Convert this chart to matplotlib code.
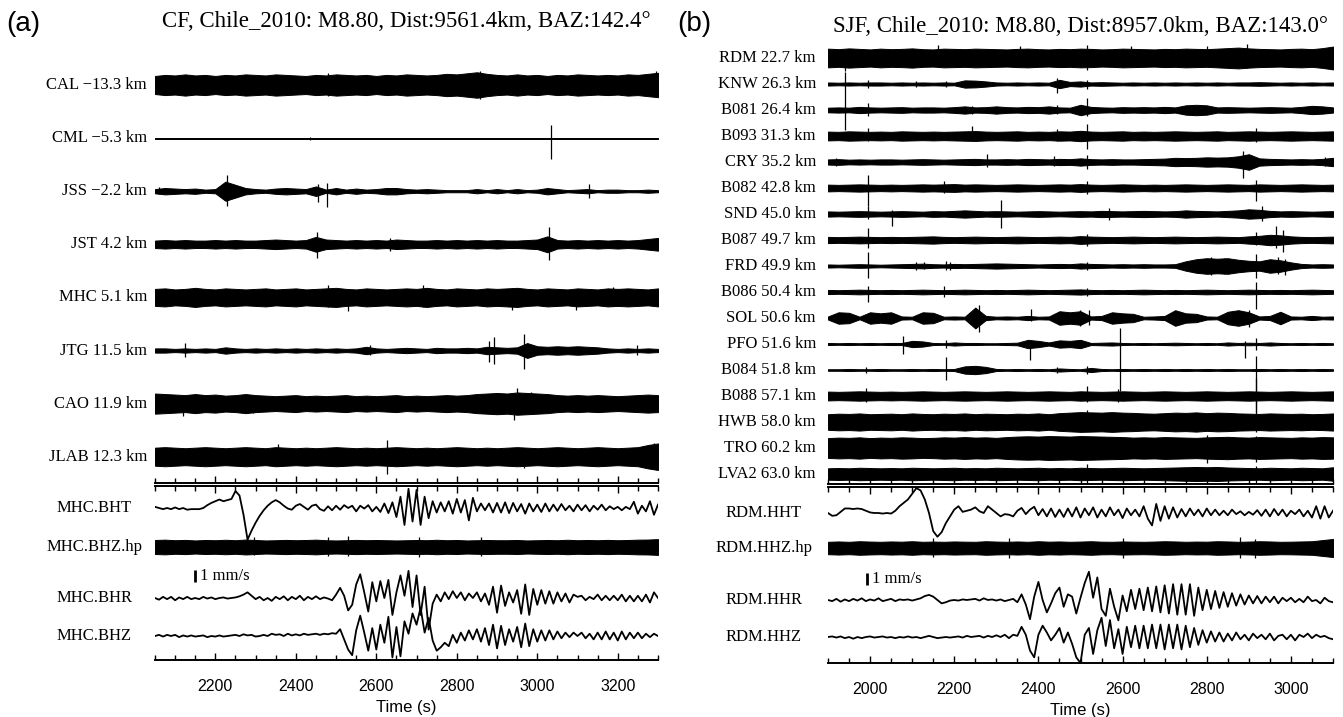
import numpy as np
import matplotlib
matplotlib.use('Agg')
import matplotlib.pyplot as plt
from matplotlib.ticker import MultipleLocator

# ---------------------------------------------------------------------------
# Panel (a): CF array, 2050-3300 s
# noisy traces: half-amplitude envelope, % of trace spacing, every 25 s
# ---------------------------------------------------------------------------
A_XLIM = (2050, 3300)
A_TITLE = 'CF, Chile_2010: M8.80, Dist:9561.4km, BAZ:142.4°'
A_LABELS = ['CAL −13.3 km', 'CML −5.3 km', 'JSS −2.2 km', 'JST 4.2 km',
            'MHC 5.1 km', 'JTG 11.5 km', 'CAO 11.9 km', 'JLAB 12.3 km']

CAL_ENV = [17, 19, 18, 20, 18, 19, 17, 19, 18, 20, 19, 18, 20, 19, 18, 17, 19, 18, 20, 19,
           18, 19, 17, 19, 18, 20, 19, 18, 19, 21, 20, 22, 24, 21, 19, 18, 20, 18, 19, 17,
           19, 18, 20, 19, 18, 19, 18, 20, 19, 21, 23]
CML_ENV = [1, 1, 1, 1, 1, 1, 1, 1, 1, 1, 1, 1, 1, 1, 1, 1, 1, 1, 1, 1,
           1, 1, 1, 1, 1, 1, 1, 1, 1, 1, 1, 1, 1, 1, 1, 1, 1, 1, 1, 1,
           1, 1, 1, 1, 1, 1, 1, 1, 1, 1, 1]
JSS_ENV = [4, 6, 5, 4, 5, 3, 4, 18, 12, 6, 4, 3, 5, 6, 5, 4, 9, 3, 6, 3,
           5, 3, 4, 6, 6, 4, 3, 4, 3, 2, 2, 2, 4, 2, 4, 2, 4, 2, 3, 6,
           4, 2, 3, 4, 2, 3, 3, 2, 2, 3, 2]
JST_ENV = [7, 8, 7, 8, 7, 7, 8, 7, 8, 7, 7, 8, 9, 8, 7, 8, 14, 9, 8, 7,
           8, 7, 8, 7, 9, 8, 7, 7, 8, 7, 8, 7, 8, 7, 8, 7, 7, 8, 9, 15,
           8, 7, 8, 7, 8, 7, 8, 7, 8, 10, 12]
MHC_ENV = [16, 17, 15, 16, 18, 16, 15, 17, 16, 15, 16, 17, 15, 16, 17, 15, 16, 17, 18, 16,
           15, 17, 16, 15, 16, 17, 16, 18, 16, 15, 17, 16, 15, 17, 16, 17, 18, 16, 15, 17,
           16, 15, 17, 16, 15, 17, 16, 17, 16, 15, 17]
JTG_ENV = [4, 4, 3, 4, 3, 4, 3, 6, 4, 3, 4, 3, 4, 3, 4, 3, 4, 3, 4, 3,
           4, 7, 4, 3, 4, 5, 4, 3, 5, 4, 4, 5, 4, 7, 6, 5, 6, 14, 8, 7,
           8, 7, 8, 7, 6, 4, 3, 4, 3, 4, 3]
CAO_ENV = [19, 18, 17, 16, 18, 16, 17, 15, 16, 18, 16, 15, 14, 15, 16, 14, 15, 14, 15, 16,
           14, 15, 14, 15, 16, 14, 15, 14, 15, 16, 15, 16, 18, 19, 20, 19, 21, 20, 19, 18,
           16, 15, 16, 15, 16, 15, 14, 15, 16, 17, 16]
JLAB_ENV = [17, 18, 17, 16, 17, 18, 17, 16, 17, 18, 17, 16, 18, 17, 16, 17, 16, 17, 18, 17,
            16, 17, 16, 17, 18, 17, 16, 17, 16, 17, 18, 17, 16, 17, 16, 17, 18, 17, 16, 17,
            18, 17, 16, 17, 18, 17, 16, 17, 18, 22, 25]

# isolated spikes: (time s, up %, down %)
CAL_SPK = [(2480, 23, 20), (2858, 27, 27), (3294, 26, 14)]
CML_SPK = [(2436, 3, 3), (3034, 25, 40)]
JSS_SPK = [(2060, 8, 6), (2228, 30, 28), (2456, 14, 20), (2477, 16, 30), (3128, 14, 12)]
JST_SPK = [(2452, 24, 26), (2635, 12, 12), (3028, 32, 30)]
MHC_SPK = [(2481, 24, 18), (2530, 16, 25), (2717, 23, 18), (2938, 18, 24),
           (3095, 16, 23), (3187, 20, 16)]
JTG_SPK = [(2125, 14, 12), (2585, 10, 8), (2880, 18, 22), (2892, 26, 26),
           (2966, 32, 34), (3249, 10, 8)]
CAO_SPK = [(2120, 14, 24), (2294, 14, 18), (2941, 16, 30), (2950, 30, 14), (2985, 22, 18)]
JLAB_SPK = [(2356, 24, 18), (2626, 32, 32), (2966, 16, 22), (3290, 26, 24)]

# broadband traces of MHC, mm/s, every 10 s from 2050 s
MHC_BHT = [0.1, 0.0, -0.1, 0.0, -0.1, 0.05, -0.1, 0.0, -0.15, -0.1,
           -0.1, -0.1, 0.0, 0.25, 0.45, 0.6, 0.75, 0.6, 0.7, 0.8,
           1.5, 1.1, -0.6, -2.8, -2.0, -1.3, -0.7, -0.2, 0.2, 0.5,
           0.7, 0.5, 0.2, -0.05, -0.15, 0.2, 0.35, 0.1, -0.15, 0.2,
           0.3, -0.1, -0.25, 0.15, -0.2, 0.2, -0.15, 0.25, 0.0, 0.2,
           -0.3, 0.2, -0.05, 0.25, -0.3, 0.1, -0.35, 0.4, -0.45, 0.5,
           -0.8, 1.0, -1.5, 1.7, -1.2, 1.6, -1.5, 1.0, -0.9, 0.6,
           -0.4, 0.5, -0.3, 0.6, -0.5, 0.8, -0.4, 0.7, -1.1, 0.9,
           -0.3, 0.4, -0.2, 0.4, -0.4, 0.45, -0.4, 0.5, -0.45, 0.45,
           -0.3, 0.35, -0.5, 0.4, -0.3, 0.3, -0.35, 0.4, -0.3, 0.3,
           -0.25, 0.35, -0.2, 0.2, -0.3, 0.3, -0.2, 0.25, -0.3, 0.2,
           -0.15, 0.3, -0.2, 0.15, -0.1, 0.1, -0.2, 0.1, -0.1, 0.55,
           -0.5, 0.2, -0.3, 0.6, -0.6, 0.3]
MHC_BHR = [0.0, -0.15, 0.1, -0.1, 0.1, -0.2, 0.05, -0.1, 0.1, -0.1,
           0.0, -0.1, 0.1, -0.05, 0.05, -0.1, 0.0, 0.05, -0.05, 0.0,
           0.05, 0.15, 0.3, 0.5, 0.2, -0.1, 0.1, -0.2, 0.0, -0.25,
           0.1, -0.1, 0.15, -0.2, 0.1, -0.1, 0.2, -0.2, 0.1, -0.1,
           0.15, -0.1, 0.05, -0.05, -0.2, 0.3, 0.9, 0.2, -1.1, -0.6,
           1.2, 2.1, 0.5, -1.2, 1.4, -0.3, 1.5, 0.0, 1.6, -1.5,
           0.5, 2.0, 0.2, 2.4, -0.8, 2.0, -1.5, 1.0, -2.8, -0.5,
           0.3, -0.3, 0.5, -0.1, 0.6, 0.0, 0.5, -0.2, 0.4, 0.0,
           0.5, -0.3, 0.4, -0.6, 1.0, -1.3, 1.1, -0.7, 0.5, -0.4,
           0.7, -1.4, 1.2, -1.5, 0.8, -0.6, 0.7, -0.5, 0.6, -0.5,
           0.5, -0.3, 0.4, -0.4, 0.3, 0.1, 0.2, -0.2, 0.1, -0.1,
           0.3, -0.2, 0.2, -0.2, 0.2, -0.2, 0.3, -0.3, 0.2, -0.3,
           0.2, -0.3, 0.3, -0.4, 0.5, 0.0]
MHC_BHZ = [0.0, 0.1, -0.05, 0.1, 0.0, 0.1, -0.1, 0.05, -0.05, 0.05,
           -0.05, 0.0, 0.05, -0.1, 0.0, -0.05, 0.05, -0.05, 0.0, 0.05,
           0.1, 0.0, 0.15, 0.05, 0.1, -0.05, 0.0, 0.1, 0.0, 0.2,
           0.1, 0.15, 0.0, 0.2, 0.05, 0.15, 0.05, 0.2, 0.1, 0.15,
           0.2, 0.1, 0.2, 0.15, 0.25, 0.2, 0.6, -0.3, -1.2, -1.7,
           0.5, 1.8, 0.3, -1.3, 0.7, -1.2, 1.0, -0.6, 1.7, -1.9,
           0.8, -1.8, 1.3, 0.2, 2.0, 1.0, 2.5, 0.3, 1.6, -0.4,
           -1.3, -1.0, -0.6, -0.9, 0.1, -0.6, 0.3, -0.4, 0.5, -0.3,
           0.6, -0.5, 0.7, -0.8, 1.0, -1.1, 0.9, -0.8, 0.6, -0.5,
           0.8, -1.0, 1.1, -0.9, 0.6, -0.5, 0.5, -0.4, 0.5, -0.3,
           0.4, -0.2, 0.3, -0.1, 0.3, 0.0, 0.3, -0.2, 0.2, -0.3,
           0.3, -0.3, 0.4, -0.3, 0.3, -0.4, 0.4, -0.3, 0.3, -0.2,
           0.3, -0.2, 0.2, -0.1, 0.2, 0.0]
# high-passed vertical: half envelope in mm/s, every 25 s
MHC_HP = [0.62, 0.65, 0.6, 0.63, 0.58, 0.62, 0.6, 0.64, 0.6, 0.66,
          0.62, 0.58, 0.6, 0.63, 0.6, 0.62, 0.65, 0.6, 0.58, 0.6,
          0.63, 0.6, 0.62, 0.6, 0.58, 0.6, 0.62, 0.6, 0.64, 0.6,
          0.62, 0.58, 0.6, 0.62, 0.6, 0.6, 0.62, 0.58, 0.6, 0.62,
          0.6, 0.64, 0.6, 0.62, 0.6, 0.63, 0.6, 0.62, 0.65, 0.66, 0.7]
MHC_HP_SPK = [(2295, 0.9, 0.7), (2480, 0.9, 0.8), (2530, 0.95, 0.8),
              (2705, 0.85, 0.9), (2860, 0.9, 0.8)]
A_LOW_LABELS = ['MHC.BHT', 'MHC.BHZ.hp', 'MHC.BHR', 'MHC.BHZ']

# ---------------------------------------------------------------------------
# Panel (b): SJF array, 1900-3100 s
# ---------------------------------------------------------------------------
B_XLIM = (1900, 3100)
B_TITLE = 'SJF, Chile_2010: M8.80, Dist:8957.0km, BAZ:143.0°'
B_LABELS = ['RDM 22.7 km', 'KNW 26.3 km', 'B081 26.4 km', 'B093 31.3 km',
            'CRY 35.2 km', 'B082 42.8 km', 'SND 45.0 km', 'B087 49.7 km',
            'FRD 49.9 km', 'B086 50.4 km', 'SOL 50.6 km', 'PFO 51.6 km',
            'B084 51.8 km', 'B088 57.1 km', 'HWB 58.0 km', 'TRO 60.2 km',
            'LVA2 63.0 km']

RDM_ENV = [36, 34, 37, 35, 33, 36, 34, 35, 37, 34, 33, 36, 35, 34, 36, 35, 34, 33, 35, 36,
           34, 33, 35, 34, 36, 35, 33, 34, 36, 35, 34, 33, 35, 34, 36, 35, 34, 36, 38, 40,
           37, 35, 34, 33, 35, 36, 34, 38, 44]
KNW_ENV = [6, 5, 6, 5, 6, 6, 5, 6, 5, 6, 5, 6, 5, 14, 13, 10, 6, 5, 6, 5,
           6, 5, 16, 8, 10, 6, 7, 6, 5, 6, 5, 6, 5, 6, 5, 6, 5, 6, 5, 6,
           6, 7, 6, 5, 6, 5, 6, 5, 6]
B081_ENV = [9, 10, 9, 12, 10, 9, 10, 11, 9, 10, 10, 9, 11, 14, 10, 11, 14, 11, 10, 12,
            11, 14, 10, 9, 20, 12, 10, 9, 11, 10, 11, 10, 12, 10, 18, 20, 18, 10, 11, 10,
            9, 10, 11, 10, 9, 12, 16, 14, 10]
B093_ENV = [17, 16, 18, 17, 16, 17, 16, 18, 17, 16, 17, 16, 17, 18, 19, 17, 16, 17, 18, 16,
            17, 16, 18, 17, 20, 17, 16, 17, 18, 16, 17, 16, 17, 18, 17, 16, 17, 18, 16, 17,
            18, 17, 16, 17, 18, 17, 16, 17, 18]
CRY_ENV = [10, 11, 9, 10, 9, 10, 10, 9, 10, 11, 10, 9, 10, 11, 12, 10, 10, 11, 10, 12,
           11, 10, 12, 11, 14, 11, 10, 11, 10, 10, 11, 12, 13, 16, 15, 16, 18, 17, 18, 22,
           30, 14, 12, 11, 10, 11, 10, 12, 16]
B082_ENV = [13, 12, 13, 14, 13, 12, 13, 12, 13, 14, 13, 14, 15, 13, 14, 13, 12, 13, 14, 13,
            12, 13, 14, 13, 15, 13, 12, 13, 14, 13, 12, 13, 12, 13, 14, 13, 12, 13, 14, 13,
            12, 14, 13, 12, 13, 14, 13, 12, 13]
SND_ENV = [10, 9, 10, 11, 10, 9, 10, 11, 10, 9, 11, 10, 12, 14, 12, 10, 11, 10, 9, 10,
           11, 10, 9, 10, 11, 10, 12, 11, 10, 11, 12, 11, 10, 11, 14, 12, 11, 10, 12, 14,
           18, 16, 12, 10, 11, 10, 9, 10, 11]
B087_ENV = [12, 11, 12, 13, 12, 11, 12, 11, 12, 13, 14, 12, 11, 12, 13, 12, 11, 12, 13, 12,
            11, 12, 13, 12, 15, 13, 12, 11, 12, 13, 12, 11, 12, 13, 12, 11, 12, 13, 12, 11,
            14, 16, 20, 18, 14, 12, 11, 12, 13]
FRD_ENV = [6, 5, 6, 7, 6, 5, 6, 7, 8, 9, 7, 6, 8, 7, 8, 9, 10, 9, 8, 7,
           6, 7, 8, 7, 10, 8, 7, 6, 7, 6, 7, 6, 6, 7, 18, 26, 30, 28, 30, 24,
           20, 18, 26, 22, 14, 8, 6, 7, 6]
B086_ENV = [8, 7, 8, 9, 8, 7, 8, 7, 8, 9, 8, 7, 8, 9, 8, 7, 8, 7, 8, 9,
            8, 7, 8, 9, 10, 8, 7, 8, 7, 8, 9, 8, 7, 8, 7, 8, 9, 8, 7, 8,
            9, 8, 7, 8, 7, 8, 9, 8, 7]
SOL_ENV = [6, 22, 20, 5, 22, 18, 22, 6, 5, 22, 20, 5, 6, 5, 40, 8, 5, 6, 5, 8,
           5, 6, 26, 22, 26, 6, 8, 22, 18, 16, 5, 6, 8, 30, 18, 16, 6, 5, 24, 30,
           22, 6, 8, 24, 6, 5, 8, 5, 6]
PFO_ENV = [4, 3, 4, 3, 4, 3, 4, 4, 12, 10, 4, 3, 6, 4, 4, 3, 3, 4, 5, 16,
           12, 6, 14, 12, 16, 4, 5, 6, 4, 3, 4, 3, 4, 5, 4, 3, 4, 3, 6, 4,
           5, 4, 6, 4, 3, 4, 3, 4, 3]
B084_ENV = [3, 3, 4, 3, 3, 4, 3, 3, 4, 3, 4, 3, 4, 14, 16, 12, 4, 3, 4, 3,
            4, 3, 6, 4, 3, 8, 4, 3, 4, 3, 4, 3, 4, 3, 4, 3, 4, 3, 4, 3,
            3, 4, 3, 4, 3, 4, 3, 4, 3]
B088_ENV = [17, 16, 17, 18, 17, 16, 17, 16, 17, 18, 17, 16, 17, 18, 17, 16, 17, 18, 17, 16,
            17, 18, 17, 16, 18, 17, 16, 17, 18, 17, 16, 17, 18, 17, 16, 17, 18, 17, 16, 17,
            18, 17, 16, 17, 18, 17, 16, 17, 18]
HWB_ENV = [30, 32, 31, 33, 30, 31, 32, 30, 33, 31, 30, 32, 31, 33, 30, 32, 31, 30, 32, 31,
           33, 30, 34, 36, 38, 37, 36, 38, 36, 35, 33, 32, 34, 36, 35, 37, 34, 36, 35, 33,
           32, 31, 33, 32, 31, 32, 30, 31, 33]
TRO_ENV = [38, 40, 39, 41, 38, 40, 39, 41, 40, 38, 39, 41, 40, 42, 40, 41, 39, 42, 44, 45,
           44, 46, 45, 44, 46, 45, 44, 43, 42, 40, 41, 40, 42, 41, 40, 39, 41, 42, 43, 41,
           40, 42, 41, 40, 39, 41, 40, 42, 41]
LVA2_ENV = [22, 23, 22, 24, 23, 22, 23, 22, 24, 23, 22, 23, 24, 22, 23, 22, 24, 23, 22, 23,
            24, 22, 23, 22, 24, 23, 22, 23, 24, 23, 22, 23, 24, 25, 26, 27, 26, 27, 25, 24,
            23, 22, 24, 23, 22, 24, 23, 22, 26]

RDM_SPK = [(1940, 30, 50), (2162, 50, 30), (2356, 48, 30), (2515, 50, 45),
           (2620, 45, 30), (2800, 46, 30), (2895, 55, 40)]
KNW_SPK = [(1940, 45, 175), (1994, 15, 15), (2109, 10, 10), (2180, 12, 12),
           (2445, 25, 35), (2515, 15, 18)]
B081_SPK = [(1994, 28, 22), (2242, 16, 14), (2445, 18, 14), (2515, 48, 22)]
B093_SPK = [(1994, 32, 20), (2242, 38, 20), (2445, 26, 20), (2515, 45, 50), (2917, 32, 22)]
CRY_SPK = [(1919, 16, 14), (2277, 30, 18), (2436, 24, 16), (2515, 28, 26),
           (2886, 42, 60), (3080, 18, 16)]
B082_SPK = [(1994, 50, 70), (2175, 28, 18), (2515, 28, 22), (2917, 30, 50)]
SND_SPK = [(1994, 30, 20), (2052, 16, 46), (2312, 55, 55), (2568, 22, 22), (2932, 30, 28)]
B087_SPK = [(1994, 45, 30), (2515, 24, 22), (2917, 32, 20), (2965, 55, 30), (2982, 40, 45)]
FRD_SPK = [(1994, 52, 45), (2109, 14, 14), (2129, 14, 12), (2180, 18, 16), (2190, 16, 16),
           (2515, 15, 15), (2810, 36, 36), (2840, 30, 30), (2917, 46, 46),
           (2970, 36, 30), (2985, 28, 36)]
B086_SPK = [(1994, 24, 40), (2175, 24, 20), (2515, 16, 16), (2917, 40, 65)]
SOL_SPK = [(2259, 50, 55), (2383, 35, 10), (2498, 30, 30), (2520, 30, 26), (2900, 30, 35)]
PFO_SPK = [(2078, 30, 38), (2180, 16, 16), (2379, 16, 62), (2595, 60, 180),
           (2891, 10, 55), (2917, 24, 24)]
B084_SPK = [(1990, 12, 12), (2180, 50, 40), (2445, 12, 12), (2515, 16, 16), (2917, 55, 150)]
B088_SPK = [(1990, 32, 22), (2515, 38, 24), (2590, 26, 22), (2917, 70, 60)]
HWB_SPK = [(2515, 48, 36), (2917, 48, 40)]
TRO_SPK = [(2800, 50, 56), (2917, 48, 55)]
LVA2_SPK = [(2515, 38, 48), (2917, 30, 48)]

# RDM broadband, mm/s, every 10 s from 1900 s
RDM_HHT = [0.0, -0.25, -0.2, 0.1, 0.4, 0.4, 0.35, 0.4, 0.35, 0.2,
           0.05, 0.0, 0.0, -0.05, 0.0, -0.05, 0.2, 0.6, 0.9, 1.2,
           1.7, 2.2, 2.0, 1.2, 0.0, -1.6, -2.1, -1.7, -0.9, -0.3,
           0.3, 0.6, 0.1, 0.2, 0.3, 0.5, 0.15, 0.0, 0.6, 0.3,
           0.0, -0.3, -0.1, -0.15, -0.3, 0.2, 0.45, -0.1, 0.3, 0.55,
           -0.2, 0.35, -0.3, 0.4, -0.35, 0.3, -0.35, 0.4, -0.3, 0.5,
           -0.4, 0.4, -0.2, 0.5, -0.4, 0.3, -0.3, 0.5, -0.2, 0.3,
           -0.45, 0.4, -0.2, 0.3, -0.3, 0.6, -0.5, -1.1, 0.8, -0.7,
           0.6, -0.5, 0.5, -0.4, 0.35, -0.3, 0.4, -0.2, 0.3, -0.3,
           0.4, -0.2, 0.3, -0.2, 0.2, -0.2, 0.3, -0.1, 0.15, -0.2,
           0.1, -0.15, 0.25, -0.25, 0.3, -0.3, 0.35, -0.2, 0.3, -0.3,
           0.2, -0.1, 0.3, -0.3, 0.2, -0.4, 0.6, -0.5, 0.6, -0.4,
           0.2]
RDM_HHR = [0.0, -0.1, 0.1, -0.15, 0.05, -0.1, 0.1, -0.05, 0.15, -0.1,
           0.05, -0.05, 0.15, -0.1, 0.0, 0.1, -0.1, 0.05, 0.0, 0.05,
           -0.05, 0.05, 0.15, 0.35, 0.45, 0.3, 0.0, -0.3, -0.2, -0.05,
           0.0, -0.05, 0.05, 0.0, 0.05, 0.1, -0.05, 0.15, 0.0, 0.05,
           -0.05, 0.05, -0.1, 0.0, 0.1, -0.2, 0.5, -0.4, -1.7, 0.3,
           1.6, 0.0, -1.1, -0.3, 0.6, 1.1, -0.6, 0.5, 0.3, -1.2,
           0.2, 1.5, 2.5, 0.2, 2.0, -0.8, -1.4, 1.0, -0.6, -1.8,
           0.4, -1.0, 0.9, -0.8, 1.0, -0.9, 1.1, -1.0, 1.2, -1.1,
           1.3, -1.2, 1.4, -1.3, 1.4, -1.3, 1.4, -1.4, 1.1, -0.9,
           0.9, -0.8, 0.8, -0.7, 0.7, -0.6, 0.6, -0.5, 0.5, -0.4,
           0.4, -0.3, 0.35, -0.3, 0.3, -0.2, 0.3, -0.3, 0.2, -0.1,
           0.2, -0.2, 0.1, -0.2, 0.3, -0.1, 0.0, -0.3, 0.2, -0.1,
           -0.2]
RDM_HHZ = [0.0, 0.05, -0.05, 0.05, -0.1, 0.0, -0.15, 0.0, -0.1, 0.0,
           0.05, -0.05, 0.0, 0.05, -0.05, 0.0, -0.1, 0.0, -0.05, 0.05,
           -0.05, 0.0, -0.1, 0.0, 0.1, 0.0, -0.1, -0.05, 0.0, -0.05,
           0.0, 0.05, -0.05, 0.1, 0.0, 0.05, 0.1, -0.05, 0.1, 0.0,
           0.15, 0.0, 0.2, -0.1, 0.2, 0.1, 0.9, 0.2, -1.2, -1.8,
           0.2, 1.0, 0.4, -0.3, 0.2, 0.8, -0.5, 0.4, -0.6, -1.8,
           -2.3, 0.2, 0.8, -1.5, 0.6, 1.7, -0.8, 1.5, -1.0, 0.7,
           -1.5, 0.9, -0.9, 1.0, -1.0, 1.0, -1.0, 1.1, -1.0, 1.1,
           -1.1, 1.1, -1.0, 1.1, -1.1, 1.0, -0.9, 0.8, -0.7, 0.6,
           -0.5, 0.5, -0.4, 0.4, -0.4, 0.3, -0.3, 0.4, -0.2, 0.2,
           -0.3, 0.3, -0.1, 0.2, -0.2, 0.3, -0.3, 0.1, 0.2, -0.2,
           0.2, -0.3, 0.2, 0.0, 0.3, -0.1, 0.2, 0.0, 0.1, -0.1,
           -0.2]
RDM_HP = [0.55, 0.58, 0.55, 0.6, 0.57, 0.55, 0.58, 0.56, 0.6, 0.55,
          0.57, 0.55, 0.58, 0.56, 0.55, 0.6, 0.57, 0.55, 0.58, 0.55,
          0.6, 0.56, 0.58, 0.55, 0.57, 0.6, 0.56, 0.55, 0.58, 0.56,
          0.55, 0.57, 0.6, 0.58, 0.55, 0.57, 0.56, 0.6, 0.58, 0.55,
          0.57, 0.6, 0.58, 0.55, 0.56, 0.58, 0.6, 0.7, 0.8]
RDM_HP_SPK = [(2150, 0.9, 0.8), (2330, 0.85, 0.85), (2600, 0.9, 0.9),
              (2880, 0.95, 0.9), (2915, 0.8, 0.9)]
B_LOW_LABELS = ['RDM.HHT', 'RDM.HHZ.hp', 'RDM.HHR', 'RDM.HHZ']

SERIF = 'Liberation Serif'
SANS = 'Liberation Sans'
W, H = 1343, 717
LABEL_SIZE = 12


def px_axes(fig, x0, x1, y0, y1):
    """axes from pixel box (y measured from the top)"""
    return fig.add_axes([x0 / W, 1 - y1 / H, (x1 - x0) / W, (y1 - y0) / H])


def grid(xlim, vals):
    return np.linspace(xlim[0], xlim[1], len(vals))


def draw_band(ax, xlim, y0, env, spikes, scale, flip):
    t = grid(xlim, env)
    a = np.asarray(env, float) * scale
    ax.fill_between(t, y0 - a, y0 + a, color='black', lw=0.7)
    s = -1 if flip else 1
    for ts, up, dn in spikes:
        ax.vlines(ts, y0 - s * dn * scale, y0 + s * up * scale, color='black', lw=0.9)


def style_time_axis(ax, xlim, top, bottom, labels):
    ax.set_xlim(*xlim)
    for side in ('left', 'right'):
        ax.spines[side].set_visible(False)
    ax.spines['top'].set_visible(top)
    ax.spines['bottom'].set_visible(bottom)
    for side in ('top', 'bottom'):
        ax.spines[side].set_linewidth(1.4)
    ax.set_yticks([])
    ax.xaxis.set_major_locator(MultipleLocator(200))
    ax.xaxis.set_minor_locator(MultipleLocator(50))
    ax.tick_params(axis='x', which='both', direction='in', top=top, bottom=bottom,
                   labelbottom=labels, width=1.0)
    ax.tick_params(axis='x', which='major', length=5, labelsize=11.5, pad=14)
    ax.tick_params(axis='x', which='minor', length=3.5)
    for lab in ax.get_xticklabels():
        lab.set_fontfamily(SANS)


def panel(fig, box, xlim, title, tag, tag_x, labels, envs, spks, lows, hp, hp_spk,
          low_labels, bar_t, title_pad, label_gap, low_label_x):
    x0, x1, y_top, y_split, y_bot, first_y, step = box
    # upper stack of high-frequency traces (y in trace units, downward)
    ax = px_axes(fig, x0, x1, y_top, y_split)
    for i, (env, spk) in enumerate(zip(envs, spks)):
        draw_band(ax, xlim, i, env, spk, 0.01, flip=True)
        ax.text(-label_gap, i, labels[i], transform=ax.get_yaxis_transform(),
                ha='right', va='center', fontsize=LABEL_SIZE, family=SERIF)
    ax.set_ylim((y_split - first_y) / step, (y_top - first_y) / step)
    style_time_axis(ax, xlim, False, True, False)
    ax.set_title(title, fontsize=16.5, family=SERIF, pad=title_pad)

    # lower block of broadband traces (y in mm/s)
    axl = px_axes(fig, x0, x1, y_split + 3, y_bot)
    k = 11.3  # pixels per mm/s
    offs = [(y_bot - y) / k for y in lows['y']]
    for vals, off in zip(lows['traces'], [offs[0], offs[2], offs[3]]):
        t = xlim[0] + 10 * np.arange(len(vals))
        axl.plot(t, off + np.asarray(vals), color='black', lw=1.3)
    draw_band(axl, xlim, offs[1], hp, hp_spk, 1.0, flip=False)
    for lab, off in zip(low_labels, offs):
        axl.text(low_label_x, off, lab, transform=axl.get_yaxis_transform(),
                 ha='center', va='center', fontsize=LABEL_SIZE, family=SERIF)
    bar_y = (y_bot - lows['bar']) / k
    axl.vlines(bar_t, bar_y - 0.5, bar_y + 0.5, color='black', lw=2.0)
    axl.text(bar_t + 12, bar_y, '1 mm/s', ha='left', va='center', fontsize=LABEL_SIZE,
             family=SERIF)
    axl.set_ylim(0, (y_bot - y_split - 3) / k)
    style_time_axis(axl, xlim, True, True, True)
    axl.set_xlabel('Time (s)', fontsize=12, family=SANS, labelpad=4)
    fig.text(tag_x / W, 1 - 24 / H, tag, fontsize=20, family=SANS, va='center')


def main():
    fig = plt.figure(figsize=(W / 100, H / 100), dpi=100)
    fig.patch.set_facecolor('white')

    a_envs = [CAL_ENV, CML_ENV, JSS_ENV, JST_ENV, MHC_ENV, JTG_ENV, CAO_ENV, JLAB_ENV]
    a_spks = [CAL_SPK, CML_SPK, JSS_SPK, JST_SPK, MHC_SPK, JTG_SPK, CAO_SPK, JLAB_SPK]
    panel(fig, (155, 658, 60, 483, 660, 85, 53.1), A_XLIM, A_TITLE, '(a)', 6,
          A_LABELS, a_envs, a_spks,
          {'traces': [MHC_BHT, MHC_BHR, MHC_BHZ], 'y': [508, 547, 598, 636], 'bar': 576},
          MHC_HP, MHC_HP_SPK, A_LOW_LABELS, 2150, 24, 0.016, -0.121)

    b_envs = [RDM_ENV, KNW_ENV, B081_ENV, B093_ENV, CRY_ENV, B082_ENV, SND_ENV, B087_ENV,
              FRD_ENV, B086_ENV, SOL_ENV, PFO_ENV, B084_ENV, B088_ENV, HWB_ENV, TRO_ENV,
              LVA2_ENV]
    b_spks = [RDM_SPK, KNW_SPK, B081_SPK, B093_SPK, CRY_SPK, B082_SPK, SND_SPK, B087_SPK,
              FRD_SPK, B086_SPK, SOL_SPK, PFO_SPK, B084_SPK, B088_SPK, HWB_SPK, TRO_SPK,
              LVA2_SPK]
    panel(fig, (828, 1333, 40, 484, 663, 58, 26.0), B_XLIM, B_TITLE, '(b)', 677,
          B_LABELS, b_envs, b_spks,
          {'traces': [RDM_HHT, RDM_HHR, RDM_HHZ], 'y': [513, 548, 600, 637], 'bar': 579},
          RDM_HP, RDM_HP_SPK, B_LOW_LABELS, 1993, 6, 0.024, -0.127)

    fig.savefig('out.png', dpi=100, facecolor='white')
    plt.close(fig)


if __name__ == '__main__':
    main()
